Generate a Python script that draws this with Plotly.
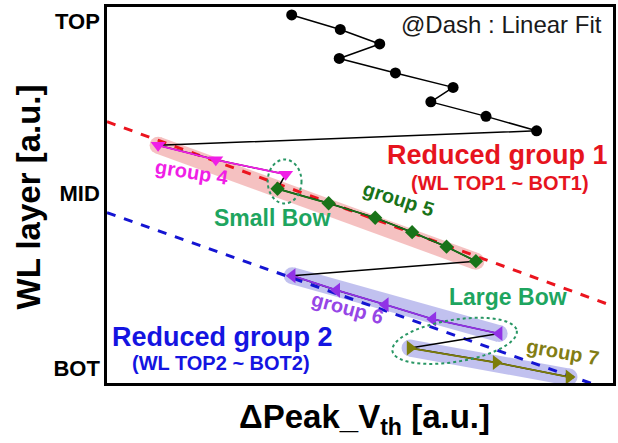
import numpy as np
import plotly.graph_objects as go

# ---- data (x = ΔPeak_Vth in a.u., layer index from TOP=1 down to BOT) ----
top_x = [36.5, 46.1, 53.9, 45.9, 57.0, 68.4, 64.0, 74.9, 84.9]
top_layer = [1, 2, 3, 4, 5, 6, 7, 8, 9]
g4_x = [10.1, 21.5, 35.3]
g4_layer = [10, 11, 12]
g5_x = [33.7, 43.8, 53.0, 60.3, 67.1, 72.9]
g5_layer = [13, 14, 15, 16, 17, 18]
g6_x = [36.6, 45.4, 55.0, 64.4, 77.5]
g6_layer = [19, 20, 21, 22, 23]
g7_x = [59.9, 76.9, 91.3]
g7_layer = [24, 25, 26]
fit_x = [0, 100]
fit1_layer = [8.37, 21.1]
fit2_layer = [14.65, 26.97]
y_tick_vals = [1.41, 13.29, 25.38]
y_tick_text = ["TOP", "MID", "BOT"]

X_RANGE = [0, 100]
Y_RANGE = [26.41, 0.45]
PLOT_W, PLOT_H = 509, 376
pxx = PLOT_W / (X_RANGE[1] - X_RANGE[0])
pxy = PLOT_H / (Y_RANGE[0] - Y_RANGE[1])

FONT = "Liberation Sans, Arial, sans-serif"

fig = go.Figure()

# highlight bands
def band(xs, ys, color, width=17, opacity=0.45):
    fig.add_trace(go.Scatter(x=[xs[0], xs[-1]], y=[ys[0], ys[-1]], mode="lines+markers",
                             line=dict(color=color, width=width),
                             marker=dict(color=color, size=width, line=dict(width=0)),
                             opacity=opacity, hoverinfo="skip", showlegend=False))

band(g4_x + g5_x, g4_layer + g5_layer, "rgb(235,120,120)")
band(g6_x, g6_layer, "rgb(120,120,220)")
band(g7_x, g7_layer, "rgb(120,120,220)")

# linear fits
fig.add_trace(go.Scatter(x=fit_x, y=fit1_layer, mode="lines",
                         line=dict(color="rgb(235,20,30)", width=3, dash="dash"), showlegend=False))
fig.add_trace(go.Scatter(x=fit_x, y=fit2_layer, mode="lines",
                         line=dict(color="rgb(20,20,210)", width=3, dash="dash"), showlegend=False))

# black connecting line through all layers
all_x = top_x + g4_x + g5_x + g6_x + g7_x
all_layer = top_layer + g4_layer + g5_layer + g6_layer + g7_layer
fig.add_trace(go.Scatter(x=all_x, y=all_layer, mode="lines",
                         line=dict(color="black", width=1.5), showlegend=False))
fig.add_trace(go.Scatter(x=top_x, y=top_layer, mode="markers",
                         marker=dict(color="black", size=11, symbol="circle"), showlegend=False))

def group(xs, ys, color, symbol, size):
    fig.add_trace(go.Scatter(x=xs, y=ys, mode="lines+markers",
                             line=dict(color=color, width=1.8),
                             marker=dict(color=color, size=size, symbol=symbol), showlegend=False))

group(g4_x, g4_layer, "rgb(240,30,230)", "triangle-down", 13)
group(g5_x, g5_layer, "rgb(25,115,25)", "diamond", 11)
group(g6_x, g6_layer, "rgb(145,50,230)", "triangle-left", 13)
group(g7_x, g7_layer, "rgb(125,125,10)", "triangle-right", 13)

# dotted "bow" ellipses
bow_color = "rgb(40,150,100)"
cx = (g4_x[-1] + g5_x[0]) / 2 + 0.6
cy = (g4_layer[-1] + g5_layer[0]) / 2
fig.add_shape(type="circle", xref="x", yref="y",
              x0=cx - 17 / pxx, x1=cx + 17 / pxx, y0=cy - 22 / pxy, y1=cy + 22 / pxy,
              line=dict(color=bow_color, width=2, dash="dot"))

ax_, ay_ = g6_x[-1], g6_layer[-1]
bx_, by_ = g7_x[0], g7_layer[0]
ecx, ecy = (ax_ + bx_) / 2, (ay_ + by_) / 2
dxp, dyp = (ax_ - bx_) * pxx, (ay_ - by_) * pxy
ang = np.arctan2(dyp, dxp)
a = np.hypot(dxp, dyp) / 2 + 18
b = 21
t = np.linspace(0, 2 * np.pi, 73)
ex = a * np.cos(t) * np.cos(ang) - b * np.sin(t) * np.sin(ang)
ey = a * np.cos(t) * np.sin(ang) + b * np.sin(t) * np.cos(ang)
path = "M " + " L ".join(f"{ecx + u / pxx:.4f},{ecy + v / pxy:.4f}" for u, v in zip(ex, ey)) + " Z"
fig.add_shape(type="path", xref="x", yref="y", path=path,
              line=dict(color=bow_color, width=2, dash="dot"))

def txt(x, y, s, size, color, bold=True, angle=0, xref="x", yref="y"):
    fig.add_annotation(x=x, y=y, xref=xref, yref=yref, text=s, showarrow=False,
                       textangle=angle, xanchor="center", yanchor="middle",
                       font=dict(family=FONT, size=size, color=color,
                                 weight="bold" if bold else "normal"))

txt(78.0, 1.69, "@Dash : Linear Fit", 24, "#1a1a1a", bold=False)
txt(77.2, 10.67, "Reduced group 1", 27, "rgb(230,20,30)")
txt(77.6, 12.6, "(WL TOP1 ~ BOT1)", 20, "rgb(230,20,30)")
txt(22.8, 23.2, "Reduced group 2", 27, "rgb(20,20,225)")
txt(22.6, 25.0, "(WL TOP2 ~ BOT2)", 20, "rgb(20,20,225)")
txt(16.7, 11.84, "group 4", 20, "rgb(240,30,230)", angle=9)
txt(57.6, 13.7, "group 5", 20, "rgb(25,115,25)", angle=18)
txt(47.5, 21.2, "group 6", 20, "rgb(150,70,230)", angle=15)
txt(90.0, 24.3, "group 7", 20, "rgb(130,125,20)", angle=10)
txt(32.6, 15.0, "Small Bow", 23, "rgb(30,165,95)")
txt(79.2, 20.5, "Large Bow", 23, "rgb(30,165,95)")

# axis titles
txt(-0.155, 0.495, "WL layer [a.u.]", 33, "black", angle=-90, xref="paper", yref="paper")
txt(0.509, -0.095, "ΔPeak_V<sub>th</sub> [a.u.]", 33, "black", xref="paper", yref="paper")

fig.update_xaxes(range=X_RANGE, showticklabels=False, ticks="", showgrid=False, zeroline=False,
                 showline=True, mirror=True, linecolor="black", linewidth=2.5)
fig.update_yaxes(range=Y_RANGE, tickvals=y_tick_vals, ticktext=y_tick_text, ticks="",
                 tickfont=dict(family=FONT, size=22, color="black", weight="bold"),
                 showgrid=False, zeroline=False,
                 showline=True, mirror=True, linecolor="black", linewidth=2.5)
fig.update_layout(width=618, height=443, margin=dict(l=107, r=2, t=7, b=60),
                  plot_bgcolor="white", paper_bgcolor="white", showlegend=False)

fig.write_html("out.html")
